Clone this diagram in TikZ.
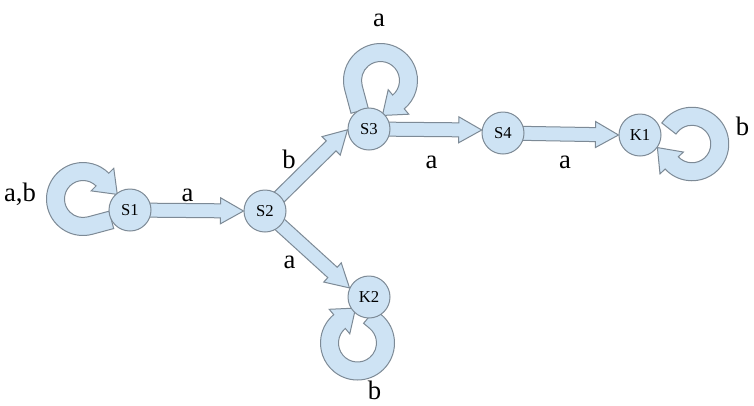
\documentclass[tikz,border=0pt]{standalone}
\usepackage{fontspec}
\setmainfont{Liberation Serif}
\usetikzlibrary{calc,backgrounds}
\definecolor{fillc}{RGB}{206,227,244}
\definecolor{edgec}{RGB}{125,138,150}
\tikzset{
  blk/.style={draw=edgec, fill=fillc, line width=0.75pt, line join=miter},
  st/.style={circle, draw=edgec, fill=fillc, line width=0.75pt, minimum size=31.5pt, inner sep=0pt, font=\fontsize{12.5}{14}\selectfont},
  lbl/.style={font=\fontsize{20}{24}\selectfont, inner sep=0pt, anchor=base}
}
% block arrow from #1 to tip #2
\newcommand{\blockarrow}[2]{%
  \path (#1) coordinate (bp) (#2) coordinate (bq);
  \coordinate (bb) at ($(bq)!17.25pt!(bp)$);
  \draw[blk] ($(bp)!5.25pt!90:(bq)$) -- ($(bb)!5.25pt!-90:(bp)$) -- ($(bb)!9.75pt!-90:(bp)$) -- (bq)
    -- ($(bb)!9.75pt!90:(bp)$) -- ($(bb)!5.25pt!90:(bp)$) -- ($(bp)!5.25pt!-90:(bq)$) -- cycle;}
% circular block arrow: centre #1, mid radius #2, start angle #3, end angle #4 (clockwise), tail extension #5
\newcommand{\loopband}[5]{%
  \draw[blk] ($(#1)+({#3}:{#2+9})+({#3+90}:{#5})$) -- ($(#1)+({#3}:{#2+9})$)
    arc[start angle={#3}, end angle={#4}, radius={#2+9}]
    -- ($(#1)+({#4}:{#2+16})$) -- ($(#1)+({#4}:{#2})+({#4-90}:21)$) -- ($(#1)+({#4}:{#2-16})$)
    -- ($(#1)+({#4}:{#2-9})$)
    arc[start angle={#4}, end angle={#3}, radius={#2-9}]
    -- ($(#1)+({#3}:{#2-9})+({#3+90}:{#5})$) -- cycle;}
\begin{document}
\begin{tikzpicture}[x=0.75pt, y=0.75pt]
\useasboundingbox (0,0) rectangle (754,-405);
% states
\node[st] (S1) at (130,-210) {S1};
\node[st] (S2) at (265,-211) {S2};
\node[st] (S3) at (369,-129) {S3};
\node[st] (S4) at (503,-133) {S4};
\node[st] (K1) at (640,-135) {K1};
\node[st] (K2) at (369,-297) {K2};
% loop centres
\coordinate (LS1) at (83,-199);
\coordinate (LS3) at (380.5,-80.5);
\coordinate (LK1) at (692,-144);
\coordinate (LK2) at (357.5,-343);
\begin{scope}[on background layer]
\fill[white] (0,0) rectangle (754,-405);
\loopband{LS1}{27.5}{-75}{-315}{22}
\loopband{LS3}{28}{-165}{-410}{24}
\loopband{LK1}{27.75}{142}{-137}{2}
\loopband{LK2}{28}{50}{-230}{8}
\blockarrow{S1.center}{S2.west}
\blockarrow{S2.center}{S3.182}
\blockarrow{S2.center}{K2.155}
\blockarrow{S3.center}{S4.172}
\blockarrow{S4.center}{K1.west}
\end{scope}
% labels
\node[lbl] (l1) at (20,-201.7) {a,b};
\node[lbl] (l2) at (187.5,-201.7) {a};
\node[lbl] (l3) at (289,-168) {b};
\node[lbl] (l4) at (289.5,-268) {a};
\node[lbl] (l5) at (379,-26) {a};
\node[lbl] (l6) at (431.5,-168) {a};
\node[lbl] (l7) at (565,-168) {a};
\node[lbl] (l8) at (742.5,-135) {b};
\node[lbl] (l9) at (374.5,-399) {b};
\end{tikzpicture}
\end{document}
